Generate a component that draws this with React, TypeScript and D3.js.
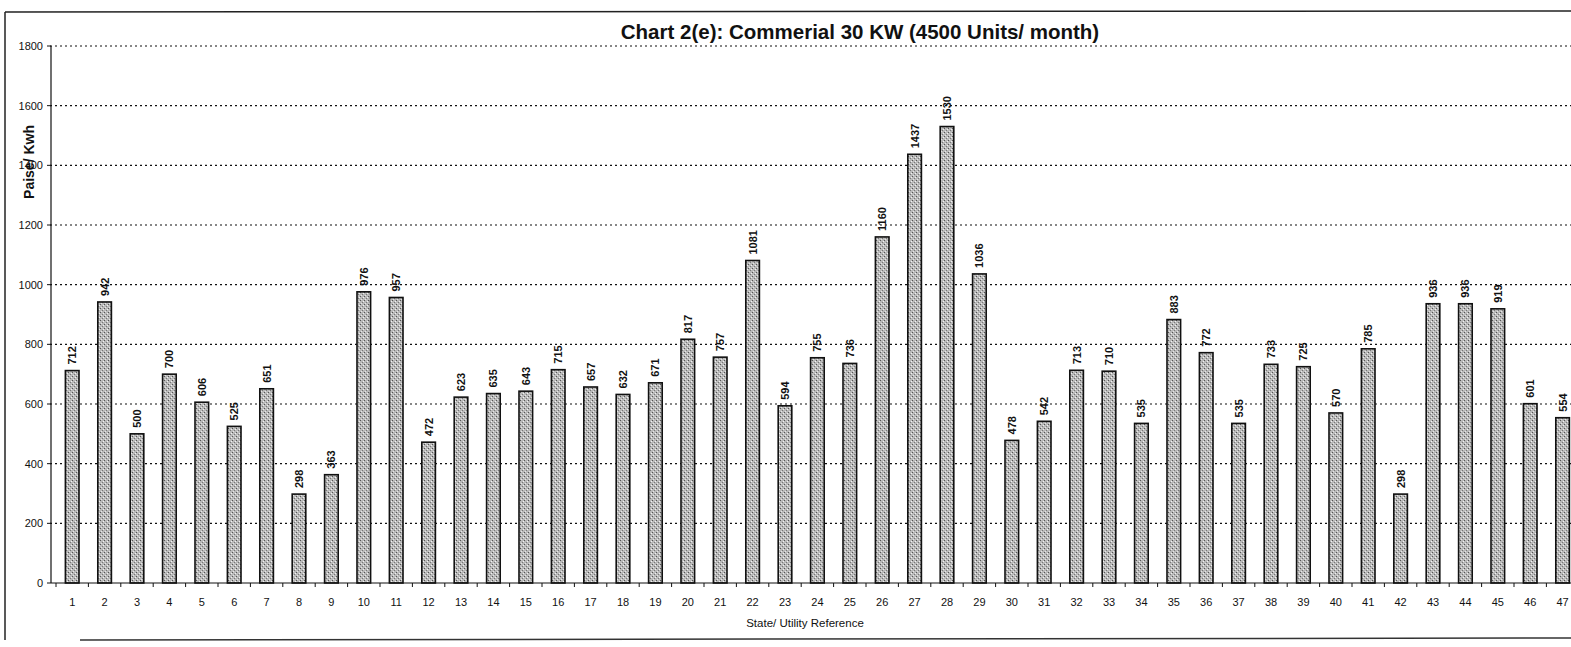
import React from "react";
import * as d3 from "d3";

// State/utility reference numbers and Paise/Kwh values
const refs = [
  "1", "2", "3", "4", "5", "6", "7", "8", "9", "10", "11", "12", "13", "14", "15", "16",
  "17", "18", "19", "20", "21", "22", "23", "24", "25", "26", "27", "28", "29", "30", "31",
  "32", "33", "34", "35", "36", "37", "38", "39", "40", "41", "42", "43", "44", "45", "46", "47",
];
const values = [
  712, 942, 500, 700, 606, 525, 651, 298, 363, 976, 957, 472, 623, 635, 643, 715,
  657, 632, 671, 817, 757, 1081, 594, 755, 736, 1160, 1437, 1530, 1036, 478, 542,
  713, 710, 535, 883, 772, 535, 733, 725, 570, 785, 298, 936, 936, 919, 601, 554,
];
const yTicks = [0, 200, 400, 600, 800, 1000, 1200, 1400, 1600, 1800];

const W = 1571;
const H = 647;
const left = 50;
const top = 46;
const bottom = 583;

export default function App() {
  const x = d3.scaleBand().domain(refs).range([left + 6, left + 6 + 32.4 * refs.length]).paddingInner(0.58).paddingOuter(0.29);
  const y = d3.scaleLinear().domain([0, 1800]).range([bottom, top]);
  const step = x.step();
  const font = "Arial, 'Liberation Sans', sans-serif";

  return (
    <svg width={W} height={H} style={{ position: "absolute", left: 0, top: 0, background: "#fff" }} fontFamily={font}>
      <defs>
        <pattern id="stip" width="4" height="4" patternUnits="userSpaceOnUse">
          <rect width="4" height="4" fill="#b9b9b9" />
          <rect x="0" y="0" width="1" height="1" fill="#555" />
          <rect x="2" y="2" width="1" height="1" fill="#777" />
          <rect x="3" y="1" width="1" height="1" fill="#f2f2f2" />
          <rect x="1" y="3" width="1" height="1" fill="#e6e6e6" />
        </pattern>
      </defs>
      {/* frame */}
      <line x1={5} y1={12} x2={W} y2={11} stroke="#222" strokeWidth={1.5} />
      <line x1={5} y1={12} x2={5} y2={640} stroke="#222" strokeWidth={1.5} />
      <line x1={80} y1={640} x2={W} y2={638} stroke="#333" strokeWidth={1.5} />

      <text x={860} y={39} textAnchor="middle" fontSize={20.5} fontWeight="bold" fill="#111">
        Chart 2(e): Commerial 30 KW (4500 Units/ month)
      </text>

      {/* gridlines */}
      {yTicks.filter((t) => t > 0).map((t) => (
        <line key={t} x1={left} x2={W} y1={y(t)} y2={y(t)} stroke="#111" strokeWidth={1.1} strokeDasharray="2,3" />
      ))}

      {/* y axis */}
      <line x1={left + 1} x2={left + 1} y1={top} y2={bottom} stroke="#111" strokeWidth={1.2} />
      {yTicks.map((t) => (
        <g key={t}>
          <line x1={left - 3} x2={left + 1} y1={y(t)} y2={y(t)} stroke="#111" />
          <text x={left - 7} y={y(t) + 4} textAnchor="end" fontSize={11} fill="#111">{t}</text>
        </g>
      ))}
      <text transform={`translate(34,162) rotate(-90)`} textAnchor="middle" fontSize={14} fontWeight="bold" fill="#111">
        Paise/ Kwh
      </text>

      {/* bars */}
      {values.map((v, i) => {
        const xb = x(refs[i]) as number;
        return (
          <g key={i}>
            <rect x={xb} y={y(v)} width={x.bandwidth()} height={bottom - y(v)} fill="url(#stip)" stroke="#111" strokeWidth={1.6} />
            <text transform={`translate(${xb + x.bandwidth() / 2 + 4},${y(v) - 6}) rotate(-90)`} fontSize={11} fontWeight="bold" fill="#111">
              {v}
            </text>
          </g>
        );
      })}

      {/* x axis */}
      <line x1={left + 1} x2={W} y1={bottom} y2={bottom} stroke="#111" strokeWidth={1.2} />
      {refs.map((r, i) => {
        const xb = (x(r) as number) - (step - x.bandwidth()) / 2;
        return <line key={"t" + i} x1={xb} x2={xb} y1={bottom} y2={bottom + 4} stroke="#111" />;
      })}
      {refs.map((r) => (
        <text key={"l" + r} x={(x(r) as number) + x.bandwidth() / 2} y={bottom + 23} textAnchor="middle" fontSize={11} fill="#111">
          {r}
        </text>
      ))}
      <text x={805} y={627} textAnchor="middle" fontSize={11.5} fill="#111">State/ Utility Reference</text>
    </svg>
  );
}
